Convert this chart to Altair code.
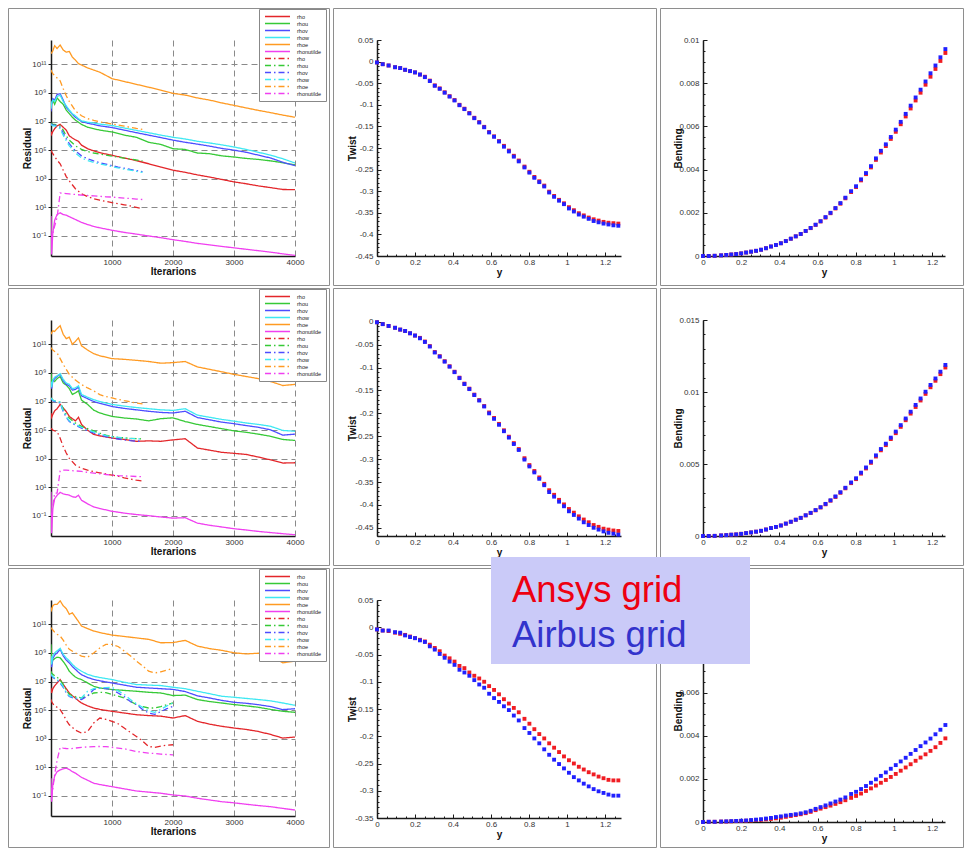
import altair as alt
import pandas as pd

# ---------------- residual histories (log10 of residual) ----------------
SERIES = ["rho", "rhou", "rhov", "rhow", "rhoe", "rhonutilde"]
SERIES_COLORS = ["#e3262a", "#36c936", "#4d4dff", "#3ee8f2", "#ff9a22", "#f03ff0"]

IT_SOLID = [0, 10, 30, 60, 100, 150, 200, 250, 300, 350, 400, 450, 500, 600, 700, 800,
            1000, 1200, 1400, 1600, 1800, 2000, 2200, 2400, 2600, 2800, 3000, 3200, 3400,
            3600, 3800, 4000]
IT_DASH_A = [0, 10, 30, 60, 100, 150, 200, 250, 300, 400, 500, 600, 700, 800, 900, 1000,
             1100, 1200, 1300, 1400, 1500]
IT_DASH_B = [0, 10, 30, 60, 100, 150, 200, 250, 300, 400, 500, 600, 700, 800, 900, 1000,
             1100, 1200, 1300, 1400, 1500, 1600, 1700, 1800, 1900, 2000]

R1_SOLID = {
    "rho": [6.3, 6.1, 6.3, 6.5, 6.7, 6.8, 6.6, 6.4, 6.0, 5.85, 5.72, 5.62, 5.35, 5.1, 4.95, 4.82,
            4.64, 4.45, 4.27, 4.05, 3.82, 3.6, 3.45, 3.27, 3.12, 2.95, 2.78, 2.65, 2.5, 2.38, 2.25, 2.24],
    "rhou": [8.0, 8.3, 8.5, 8.2, 8.65, 8.4, 8.2, 7.8, 7.55, 7.3, 7.1, 6.95, 6.8, 6.6, 6.5, 6.4,
             6.27, 6.05, 5.9, 5.55, 5.4, 5.1, 5.05, 4.8, 4.75, 4.6, 4.52, 4.42, 4.35, 4.25, 4.12, 3.97],
    "rhov": [7.7, 8.2, 8.6, 8.5, 8.9, 8.95, 8.5, 8.0, 7.75, 7.5, 7.3, 7.15, 7.0, 6.88, 6.8, 6.7,
             6.58, 6.4, 6.22, 6.05, 5.88, 5.7, 5.55, 5.42, 5.28, 5.12, 5.0, 4.85, 4.65, 4.45, 4.15, 3.92],
    "rhow": [7.9, 8.3, 8.5, 8.4, 8.75, 8.85, 8.4, 8.1, 7.8, 7.55, 7.4, 7.2, 7.05, 6.95, 6.9, 6.82,
             6.72, 6.55, 6.38, 6.22, 6.05, 5.9, 5.78, 5.62, 5.5, 5.37, 5.22, 5.05, 4.85, 4.65, 4.4, 4.1],
    "rhoe": [11.75, 11.8, 11.95, 12.3, 12.1, 12.35, 12.0, 11.85, 11.9, 11.5, 11.3, 11.05, 10.95, 10.75,
             10.6, 10.45, 10.0, 9.8, 9.6, 9.4, 9.2, 8.97, 8.85, 8.65, 8.5, 8.3, 8.13, 7.95, 7.78, 7.62, 7.45, 7.3],
    "rhonutilde": [0.4, -2.3, -0.8, 0.1, 0.5, 0.62, 0.5, 0.45, 0.35, 0.25, 0.15, 0.05, -0.05, -0.2, -0.33,
                   -0.43, -0.6, -0.75, -0.87, -1.0, -1.12, -1.26, -1.38, -1.52, -1.62, -1.73, -1.83, -1.93,
                   -2.03, -2.13, -2.25, -2.36],
}
R1_DASH = {
    "rho": [5.0, 4.9, 4.75, 4.55, 4.3, 4.05, 3.6, 3.15, 2.85, 2.3, 1.95, 1.75, 1.6, 1.5, 1.42, 1.33,
            1.26, 1.18, 1.1, 1.0, 0.9],
    "rhou": [6.9, 6.85, 6.8, 6.8, 6.75, 6.7, 6.4, 6.0, 5.7, 5.3, 5.05, 4.9, 4.8, 4.72, 4.65, 4.58,
             4.5, 4.44, 4.38, 4.31, 4.25],
    "rhov": [6.85, 6.8, 6.75, 6.75, 6.7, 6.6, 6.2, 5.8, 5.45, 4.95, 4.6, 4.4, 4.25, 4.12, 4.02, 3.92,
             3.82, 3.74, 3.65, 3.57, 3.5],
    "rhow": [6.8, 6.75, 6.7, 6.7, 6.65, 6.5, 6.05, 5.65, 5.3, 4.8, 4.45, 4.28, 4.15, 4.04, 3.95, 3.85,
             3.76, 3.68, 3.6, 3.52, 3.44],
    "rhoe": [10.6, 10.5, 10.35, 10.2, 10.05, 9.85, 9.3, 8.8, 8.4, 7.75, 7.4, 7.2, 7.08, 6.98, 6.9, 6.83,
             6.76, 6.68, 6.6, 6.52, 6.45],
    "rhonutilde": [-1.0, -1.2, -0.8, -0.3, 0.3, 2.0, 1.98, 1.96, 1.94, 1.9, 1.86, 1.83, 1.8, 1.77, 1.74,
                   1.72, 1.68, 1.65, 1.62, 1.58, 1.55],
}

R2_SOLID = {
    "rho": [6.2, 5.9, 6.1, 6.35, 6.5, 6.8, 6.55, 6.3, 5.96, 5.8, 5.65, 5.9, 5.4, 5.0, 4.7, 4.6,
            4.45, 4.35, 4.22, 4.25, 4.22, 4.32, 4.4, 3.75, 3.6, 3.45, 3.38, 3.3, 3.12, 2.92, 2.7, 2.72],
    "rhou": [9.0, 8.2, 8.5, 8.4, 8.6, 8.75, 8.3, 8.15, 7.9, 7.5, 7.6, 7.75, 7.1, 6.8, 6.4, 6.2,
             5.96, 5.85, 5.78, 5.65, 5.8, 5.86, 5.6, 5.4, 5.25, 5.1, 4.95, 4.85, 4.72, 4.57, 4.35, 4.28],
    "rhov": [8.3, 7.9, 8.4, 8.6, 8.75, 8.9, 8.45, 8.2, 8.1, 7.8, 7.85, 8.0, 7.4, 7.2, 7.0, 6.87,
             6.65, 6.52, 6.42, 6.32, 6.24, 6.2, 6.32, 5.88, 5.72, 5.56, 5.45, 5.32, 5.2, 5.02, 4.65, 4.72],
    "rhow": [8.4, 8.0, 8.5, 8.7, 8.8, 8.95, 8.55, 8.3, 8.2, 7.9, 7.95, 8.1, 7.5, 7.3, 7.13, 7.0,
             6.8, 6.68, 6.58, 6.5, 6.42, 6.38, 6.5, 6.05, 5.9, 5.75, 5.63, 5.5, 5.4, 5.27, 4.98, 4.92],
    "rhoe": [11.7, 11.8, 11.95, 11.9, 12.1, 12.3, 11.7, 11.4, 11.5, 11.0, 11.2, 11.45, 10.9, 10.6, 10.35,
             10.2, 10.0, 9.95, 9.88, 9.8, 9.68, 9.72, 9.8, 9.42, 9.25, 9.08, 8.9, 8.75, 8.6, 8.4, 8.12, 8.2],
    "rhonutilde": [0.7, -2.2, -0.5, 0.2, 0.45, 0.65, 0.55, 0.5, 0.45, 0.35, 0.3, 0.45, 0.1, -0.15, -0.37,
                   -0.48, -0.67, -0.8, -0.9, -0.98, -1.07, -1.15, -1.12, -1.5, -1.65, -1.77, -1.89, -1.98,
                   -2.08, -2.16, -2.24, -2.31],
}
R2_DASH = {
    "rho": [5.14, 5.1, 5.0, 4.95, 4.9, 4.44, 3.85, 3.4, 3.03, 2.56, 2.33, 2.2, 2.1, 2.02, 1.94, 1.86,
            1.78, 1.67, 1.58, 1.5, 1.44],
    "rhou": [7.25, 7.2, 7.1, 7.05, 7.0, 6.95, 6.5, 6.1, 5.84, 5.5, 5.26, 5.1, 4.95, 4.79, 4.65, 4.55,
             4.5, 4.46, 4.43, 4.41, 4.39],
    "rhov": [7.2, 7.15, 7.05, 7.0, 6.95, 6.9, 6.3, 5.9, 5.61, 5.35, 5.14, 4.95, 4.8, 4.67, 4.55, 4.44,
             4.38, 4.32, 4.27, 4.23, 4.2],
    "rhow": [7.25, 7.2, 7.1, 7.05, 7.0, 6.95, 6.35, 5.95, 5.65, 5.4, 5.2, 5.02, 4.88, 4.75, 4.62, 4.55,
             4.5, 4.45, 4.42, 4.4, 4.37],
    "rhoe": [10.77, 10.7, 10.6, 10.5, 10.4, 10.0, 9.6, 9.25, 8.9, 8.5, 8.19, 7.95, 7.75, 7.48, 7.35,
             7.25, 7.15, 7.06, 6.98, 6.9, 6.83],
    "rhonutilde": [-1.2, -1.0, -0.3, 0.6, 0.6, 2.15, 2.2, 2.2, 2.18, 2.15, 2.12, 2.05, 2.0, 1.95, 1.9,
                   1.86, 1.82, 1.8, 1.78, 1.76, 1.74],
}

R3_SOLID = {
    "rho": [6.56, 6.2, 6.5, 6.7, 6.9, 7.14, 6.8, 6.5, 6.2, 6.0, 5.85, 5.65, 5.5, 5.3, 5.15, 5.05,
            4.92, 4.8, 4.68, 4.62, 4.58, 4.45, 4.62, 4.22, 4.02, 3.87, 3.75, 3.65, 3.51, 3.3, 3.05, 3.12],
    "rhou": [9.6, 8.2, 8.5, 8.6, 8.7, 8.66, 8.4, 8.1, 7.72, 7.5, 7.32, 7.2, 7.14, 6.9, 6.67, 6.55,
             6.44, 6.38, 6.32, 6.25, 6.2, 6.02, 6.05, 5.74, 5.6, 5.5, 5.39, 5.3, 5.2, 5.05, 4.92, 4.85],
    "rhov": [8.55, 8.0, 8.6, 8.85, 9.0, 9.25, 8.8, 8.5, 8.3, 8.05, 7.85, 7.65, 7.48, 7.28, 7.15, 7.05,
             6.9, 6.75, 6.6, 6.55, 6.5, 6.45, 6.3, 6.0, 5.85, 5.68, 5.55, 5.48, 5.38, 5.25, 5.04, 5.1],
    "rhow": [8.78, 8.2, 8.8, 9.0, 9.15, 9.32, 8.9, 8.65, 8.45, 8.2, 8.0, 7.85, 7.72, 7.5, 7.37, 7.28,
             7.14, 6.95, 6.79, 6.75, 6.72, 6.6, 6.5, 6.32, 6.15, 5.97, 5.9, 5.82, 5.74, 5.65, 5.5, 5.34],
    "rhoe": [12.17, 12.0, 12.3, 12.4, 12.4, 12.64, 12.3, 12.1, 11.7, 11.8, 11.5, 11.2, 10.88, 10.7, 10.53,
             10.42, 10.25, 10.15, 10.05, 9.95, 9.71, 9.72, 9.88, 9.48, 9.3, 9.18, 9.01, 8.93, 8.98, 8.78,
             8.31, 8.43],
    "rhonutilde": [0.24, -1.4, -0.2, 0.4, 0.7, 0.82, 0.9, 0.94, 0.85, 0.7, 0.6, 0.45, 0.3, 0.1, -0.11,
                   -0.2, -0.35, -0.5, -0.65, -0.73, -0.81, -0.93, -1.0, -1.16, -1.28, -1.4, -1.48, -1.58,
                   -1.67, -1.75, -1.87, -1.98],
}
R3_DASH = {
    "rho": [5.74, 5.6, 5.45, 5.3, 5.2, 5.04, 4.7, 4.3, 3.98, 3.6, 3.4, 3.5, 4.1, 4.45, 4.35, 4.22,
            4.05, 3.75, 3.45, 3.16, 2.85, 2.46, 2.4, 2.48, 2.55, 2.58],
    "rhou": [7.72, 7.6, 7.5, 7.4, 7.3, 7.1, 6.8, 6.4, 6.09, 5.95, 5.85, 6.0, 6.2, 6.25, 6.22, 6.1,
             5.98, 5.85, 5.62, 5.39, 5.25, 5.15, 5.15, 5.25, 5.38, 5.5],
    "rhov": [7.5, 7.4, 7.3, 7.2, 7.1, 6.9, 6.6, 6.2, 5.95, 5.8, 5.74, 6.0, 6.44, 6.55, 6.5, 6.44,
             6.2, 5.95, 5.6, 5.39, 5.05, 4.8, 4.7, 4.9, 5.1, 5.27],
    "rhow": [7.55, 7.45, 7.35, 7.25, 7.15, 6.95, 6.65, 6.25, 6.0, 5.85, 5.85, 6.32, 6.5, 6.55, 6.58, 6.6,
             6.35, 6.1, 5.75, 5.45, 5.2, 4.95, 4.85, 5.05, 5.3, 5.5],
    "rhoe": [10.77, 10.7, 10.6, 10.45, 10.3, 10.18, 9.9, 9.55, 9.25, 9.0, 8.78, 8.7, 9.0, 9.35, 9.6, 9.6,
             9.45, 9.13, 8.8, 8.43, 8.1, 7.72, 7.6, 7.68, 7.8, 7.91],
    "rhonutilde": [-1.16, -1.0, -0.5, 0.5, 1.5, 2.39, 2.35, 2.32, 2.3, 2.35, 2.4, 2.43, 2.45, 2.46, 2.45,
                   2.4, 2.35, 2.3, 2.2, 2.11, 2.05, 2.0, 1.97, 1.92, 1.9, 1.88],
}

# ---------------- twist / bending along span ----------------
STATIONS = [0.000, 0.030, 0.061, 0.095, 0.122, 0.148, 0.174, 0.200, 0.226, 0.252, 0.278, 0.304,
            0.330, 0.356, 0.382, 0.408, 0.434, 0.460, 0.486, 0.512, 0.538, 0.564, 0.590, 0.616,
            0.642, 0.668, 0.694, 0.720, 0.746, 0.776, 0.802, 0.828, 0.854, 0.880, 0.906, 0.932,
            0.958, 0.984, 1.010, 1.036, 1.062, 1.088, 1.114, 1.140, 1.166, 1.192, 1.218, 1.244, 1.270]

TWIST1_ANSYS = [-0.002, -0.006, -0.009, -0.013, -0.015, -0.019, -0.022, -0.025, -0.030, -0.035, -0.044,
                -0.055, -0.062, -0.071, -0.080, -0.089, -0.100, -0.109, -0.119, -0.130, -0.140, -0.151,
                -0.163, -0.173, -0.184, -0.195, -0.206, -0.218, -0.229, -0.243, -0.255, -0.267, -0.277,
                -0.287, -0.301, -0.311, -0.320, -0.328, -0.337, -0.344, -0.351, -0.356, -0.361, -0.365,
                -0.368, -0.371, -0.373, -0.374, -0.375]
TWIST1_AIRBUS = [-0.002, -0.006, -0.009, -0.013, -0.015, -0.019, -0.022, -0.025, -0.030, -0.036, -0.045,
                 -0.056, -0.063, -0.072, -0.081, -0.090, -0.101, -0.110, -0.120, -0.131, -0.141, -0.152,
                 -0.164, -0.174, -0.185, -0.197, -0.208, -0.220, -0.231, -0.245, -0.257, -0.269, -0.279,
                 -0.289, -0.303, -0.313, -0.322, -0.330, -0.340, -0.347, -0.354, -0.359, -0.364, -0.369,
                 -0.372, -0.375, -0.377, -0.379, -0.380]
TWIST2_ANSYS = [-0.001, -0.005, -0.009, -0.013, -0.017, -0.020, -0.025, -0.030, -0.035, -0.043, -0.053,
                -0.066, -0.075, -0.086, -0.097, -0.109, -0.122, -0.135, -0.146, -0.159, -0.171, -0.184,
                -0.198, -0.210, -0.223, -0.237, -0.251, -0.265, -0.278, -0.298, -0.313, -0.326, -0.340,
                -0.354, -0.368, -0.378, -0.389, -0.399, -0.409, -0.417, -0.425, -0.432, -0.438, -0.444,
                -0.448, -0.452, -0.454, -0.456, -0.457]
TWIST2_AIRBUS = [-0.001, -0.005, -0.009, -0.013, -0.017, -0.020, -0.025, -0.030, -0.036, -0.044, -0.054,
                 -0.067, -0.076, -0.087, -0.098, -0.110, -0.123, -0.136, -0.147, -0.160, -0.172, -0.185,
                 -0.200, -0.212, -0.225, -0.239, -0.253, -0.267, -0.280, -0.301, -0.316, -0.329, -0.343,
                 -0.357, -0.372, -0.382, -0.393, -0.403, -0.414, -0.422, -0.430, -0.438, -0.444, -0.450,
                 -0.454, -0.458, -0.461, -0.463, -0.465]
TWIST3_ANSYS = [-0.004, -0.006, -0.007, -0.010, -0.012, -0.014, -0.017, -0.020, -0.023, -0.026, -0.032,
                -0.038, -0.044, -0.052, -0.057, -0.063, -0.071, -0.075, -0.083, -0.089, -0.094, -0.100,
                -0.108, -0.115, -0.123, -0.132, -0.140, -0.148, -0.156, -0.168, -0.177, -0.187, -0.196,
                -0.204, -0.213, -0.221, -0.229, -0.237, -0.244, -0.250, -0.256, -0.261, -0.266, -0.270,
                -0.274, -0.277, -0.280, -0.281, -0.281]
TWIST3_AIRBUS = [-0.004, -0.006, -0.006, -0.009, -0.010, -0.015, -0.018, -0.020, -0.024, -0.027, -0.035,
                 -0.041, -0.049, -0.056, -0.063, -0.069, -0.078, -0.083, -0.089, -0.097, -0.105, -0.111,
                 -0.122, -0.130, -0.137, -0.145, -0.152, -0.162, -0.171, -0.185, -0.194, -0.204, -0.213,
                 -0.224, -0.234, -0.243, -0.251, -0.259, -0.267, -0.275, -0.281, -0.287, -0.292, -0.297,
                 -0.301, -0.304, -0.307, -0.309, -0.309]

BEND1_ANSYS = [0.0, 0.0, 0.00001, 0.00003, 0.00005, 0.00007, 0.00009, 0.00012, 0.00016, 0.00020, 0.00024,
               0.00029, 0.00036, 0.00044, 0.00051, 0.00059, 0.00069, 0.00080, 0.00091, 0.00102, 0.00116,
               0.00129, 0.00144, 0.00160, 0.00178, 0.00198, 0.00220, 0.00242, 0.00267, 0.00296, 0.00319,
               0.00350, 0.00379, 0.00410, 0.00445, 0.00479, 0.00509, 0.00542, 0.00575, 0.00610, 0.00646,
               0.00683, 0.00720, 0.00756, 0.00793, 0.00830, 0.00866, 0.00903, 0.00940]
BEND1_AIRBUS = [0.0, 0.0, 0.00001, 0.00003, 0.00005, 0.00007, 0.00009, 0.00012, 0.00016, 0.00020, 0.00024,
                0.00029, 0.00036, 0.00044, 0.00051, 0.00059, 0.00069, 0.00080, 0.00091, 0.00102, 0.00116,
                0.00130, 0.00145, 0.00161, 0.00180, 0.00200, 0.00222, 0.00245, 0.00270, 0.00300, 0.00323,
                0.00355, 0.00384, 0.00416, 0.00452, 0.00487, 0.00517, 0.00551, 0.00585, 0.00621, 0.00658,
                0.00696, 0.00734, 0.00770, 0.00808, 0.00846, 0.00882, 0.00920, 0.00958]
BEND2_ANSYS = [0.0, 0.0, 0.00001, 0.00004, 0.00006, 0.00009, 0.00011, 0.00015, 0.00020, 0.00025, 0.00030,
               0.00036, 0.00045, 0.00055, 0.00063, 0.00073, 0.00086, 0.00099, 0.00113, 0.00126, 0.00143,
               0.00160, 0.00178, 0.00198, 0.00220, 0.00245, 0.00271, 0.00300, 0.00331, 0.00367, 0.00395,
               0.00433, 0.00469, 0.00508, 0.00552, 0.00595, 0.00631, 0.00673, 0.00714, 0.00758, 0.00804,
               0.00850, 0.00896, 0.00941, 0.00987, 0.01033, 0.01078, 0.01124, 0.01170]
BEND2_AIRBUS = [0.0, 0.0, 0.00001, 0.00004, 0.00006, 0.00009, 0.00011, 0.00015, 0.00020, 0.00025, 0.00030,
                0.00036, 0.00045, 0.00055, 0.00063, 0.00073, 0.00086, 0.00099, 0.00113, 0.00126, 0.00144,
                0.00161, 0.00180, 0.00200, 0.00223, 0.00248, 0.00275, 0.00304, 0.00335, 0.00372, 0.00401,
                0.00440, 0.00476, 0.00516, 0.00560, 0.00604, 0.00641, 0.00683, 0.00725, 0.00770, 0.00816,
                0.00863, 0.00910, 0.00955, 0.01002, 0.01049, 0.01094, 0.01141, 0.01188]
BEND3_ANSYS = [0.0, 0.00001, 0.00001, 0.00002, 0.00002, 0.00003, 0.00004, 0.00005, 0.00006, 0.00007, 0.00009,
               0.00010, 0.00012, 0.00014, 0.00017, 0.00020, 0.00024, 0.00028, 0.00032, 0.00036, 0.00041,
               0.00047, 0.00055, 0.00062, 0.00069, 0.00076, 0.00084, 0.00092, 0.00101, 0.00112, 0.00121,
               0.00132, 0.00144, 0.00156, 0.00169, 0.00182, 0.00195, 0.00209, 0.00223, 0.00238, 0.00253,
               0.00268, 0.00284, 0.00299, 0.00314, 0.00330, 0.00347, 0.00367, 0.00388]
BEND3_AIRBUS = [0.0, 0.00001, 0.00001, 0.00002, 0.00003, 0.00004, 0.00005, 0.00006, 0.00007, 0.00009, 0.00011,
                0.00013, 0.00016, 0.00019, 0.00023, 0.00026, 0.00030, 0.00033, 0.00036, 0.00040, 0.00045,
                0.00052, 0.00061, 0.00069, 0.00077, 0.00086, 0.00095, 0.00104, 0.00114, 0.00130, 0.00140,
                0.00153, 0.00167, 0.00182, 0.00198, 0.00214, 0.00230, 0.00247, 0.00264, 0.00281, 0.00298,
                0.00316, 0.00334, 0.00352, 0.00369, 0.00387, 0.00407, 0.00428, 0.00450]

LEGEND_LABELS = ["Ansys grid", "Airbus grid"]
RED = "#f01c22"
BLUE = "#2020ff"
FONT = "Liberation Sans"

KEYS = [s + "|s" for s in SERIES] + [s + "|d" for s in SERIES]
KEY_COLORS = SERIES_COLORS * 2
KEY_DASH = [[1, 0]] * 6 + [[6, 3, 1.5, 3]] * 6

SUP = {-1: "\u207b\u00b9", 1: "\u00b9", 3: "\u00b3", 5: "\u2075", 7: "\u2077", 9: "\u2079", 11: "\u00b9\u00b9"}
POW_EXPR = " : ".join(f"datum.value == {k} ? '10{v}'" for k, v in SUP.items()) + " : ''"
NUM_EXPR = "'' + datum.value"

ONE = pd.DataFrame({"k": [0]})


def frame(W, H, L, R, T, B):
    return alt.Chart(ONE).mark_rect(filled=False, stroke="#8e8e8e", strokeWidth=1).encode(
        x=alt.value(-L + 0.5), x2=alt.value(W + R - 0.5),
        y=alt.value(-T + 0.5), y2=alt.value(H + B - 0.5))


def residual_df(it_s, solid, it_d, dash):
    rows = []
    for s in SERIES:
        assert len(solid[s]) == len(it_s), (s, len(solid[s]))
        for it, e in zip(it_s, solid[s]):
            rows.append({"it": it, "e": e, "key": s + "|s"})
    for s in SERIES:
        assert len(dash[s]) == len(it_d), (s, len(dash[s]))
        for it, e in zip(it_d, dash[s]):
            rows.append({"it": it, "e": e, "key": s + "|d"})
    return pd.DataFrame(rows)


def residual_panel(df, W, H, fr):
    leg = alt.Legend(title=None, orient="none", legendX=208, legendY=-31,
                     symbolType="M-5,0H5", symbolSize=25, symbolStrokeWidth=1.5,
                     labelFontSize=5.5, labelFont=FONT, labelColor="#222",
                     rowPadding=0, padding=4, symbolOffset=11, labelOffset=16,
                     fillColor="white", strokeColor="#888",
                     labelExpr="split(datum.label, '|')[0]")
    lines = alt.Chart(df).mark_line(strokeWidth=1.3, clip=True).encode(
        x=alt.X("it:Q", scale=alt.Scale(domain=[0, 4000], nice=False, zero=False),
                axis=alt.Axis(values=[1000, 2000, 3000, 4000], format="d", grid=True,
                              gridDash=[6, 4], gridColor="#8a8a8a", ticks=False, tickSize=0,
                              labelPadding=2, title="Iterarions", titleY=15, titleBaseline="middle")),
        y=alt.Y("e:Q", scale=alt.Scale(domain=[-2.4, 12.7], nice=False, zero=False),
                axis=alt.Axis(values=[-1, 1, 3, 5, 7, 9, 11], labelExpr=POW_EXPR, grid=True,
                              gridDash=[6, 4], gridColor="#8a8a8a", tickSize=3, labelPadding=2,
                              title="Residual", titleX=-24, titleY=H / 2, titleAngle=-90,
                              titleAlign="center", titleBaseline="middle")),
        color=alt.Color("key:N", scale=alt.Scale(domain=KEYS, range=KEY_COLORS), legend=leg),
        strokeDash=alt.StrokeDash("key:N", scale=alt.Scale(domain=KEYS, range=KEY_DASH), legend=leg),
    )
    return alt.layer(frame(W, H, *fr), lines).properties(width=W, height=H)


X_MAJOR = [0, 0.2, 0.4, 0.6, 0.8, 1, 1.2]
X_MINOR = [round(0.05 * i, 3) for i in range(26)]


def scatter_panel(red, blue, ytitle, ydom, ymaj, ymin, xdom, W, H, fr, extra=()):
    dred = pd.DataFrame({"s": STATIONS, "v": red, "grid": LEGEND_LABELS[0]})
    dblue = pd.DataFrame({"s": STATIONS, "v": blue, "grid": LEGEND_LABELS[1]})
    xs = alt.Scale(domain=xdom, nice=False, zero=False)
    ys = alt.Scale(domain=ydom, nice=False, zero=False)
    red_l = alt.Chart(dred).mark_square(size=15, color=RED, opacity=1).encode(
        x=alt.X("s:Q", scale=xs, axis=alt.Axis(values=X_MAJOR, labelExpr=NUM_EXPR, ticks=False,
                                                tickSize=0, labelPadding=2, title="y", titleY=16,
                                                titleBaseline="middle", orient="bottom")),
        y=alt.Y("v:Q", scale=ys, axis=alt.Axis(values=ymaj, labelExpr=NUM_EXPR, ticks=False,
                                                tickSize=0, labelPadding=4, title=ytitle, titleX=-25,
                                                titleY=H / 2, titleAngle=-90, titleAlign="center",
                                                titleBaseline="middle", orient="left")))
    blue_l = alt.Chart(dblue).mark_square(size=15, color=BLUE, opacity=1).encode(
        x=alt.X("s:Q", scale=xs, axis=alt.Axis(orient="top", offset=-H, values=X_MAJOR, labels=False,
                                                domain=False, tickSize=4, title=None)),
        y=alt.Y("v:Q", scale=ys, axis=alt.Axis(orient="right", offset=-W, values=ymaj, labels=False,
                                                domain=False, tickSize=4, title=None)))
    minor_l = alt.Chart(dblue).mark_point(opacity=0).encode(
        x=alt.X("s:Q", scale=xs, axis=alt.Axis(orient="top", offset=-H, values=X_MINOR, labels=False,
                                                domain=False, tickSize=2, title=None)),
        y=alt.Y("v:Q", scale=ys, axis=alt.Axis(orient="right", offset=-W, values=ymin, labels=False,
                                                domain=False, tickSize=2, title=None)))
    layers = [frame(W, H, *fr), red_l, blue_l, minor_l, *extra]
    return alt.layer(*layers).resolve_axis(x="independent", y="independent").properties(width=W, height=H)


# overlay legend box (drawn in the last panel, on top of everything)
box = alt.Chart(ONE).mark_rect(fill="#cacaf8").encode(
    x=alt.value(-212), x2=alt.value(47), y=alt.value(-43), y2=alt.value(64))
txt_a = alt.Chart(ONE).mark_text(text=LEGEND_LABELS[0], font=FONT, fontSize=36.5, color="#ee0011",
                                 align="left", baseline="alphabetic").encode(
    x=alt.value(-191), y=alt.value(2))
txt_b = alt.Chart(ONE).mark_text(text=LEGEND_LABELS[1], font=FONT, fontSize=36.5, color="#3333cc",
                                 align="left", baseline="alphabetic").encode(
    x=alt.value(-191), y=alt.value(47))

TW_MINOR1 = [round(0.05 - 0.01 * i, 3) for i in range(51)]
TW_MINOR2 = [round(0.0 - 0.01 * i, 3) for i in range(47)]
TW_MINOR3 = [round(0.05 - 0.01 * i, 3) for i in range(41)]
BD_MINOR1 = [round(0.0005 * i, 5) for i in range(21)]
BD_MINOR2 = [round(0.001 * i, 4) for i in range(16)]

p11 = residual_panel(residual_df(IT_SOLID, R1_SOLID, IT_DASH_A, R1_DASH), 244, 216, (43, 35, 32, 30))
p21 = residual_panel(residual_df(IT_SOLID, R2_SOLID, IT_DASH_A, R2_DASH), 244, 216, (43, 35, 32, 30))
p31 = residual_panel(residual_df(IT_SOLID, R3_SOLID, IT_DASH_B, R3_DASH), 244, 216, (43, 35, 32, 32))

p12 = scatter_panel(TWIST1_ANSYS, TWIST1_AIRBUS, "Twist", [-0.45, 0.05],
                    [0.05, 0, -0.05, -0.1, -0.15, -0.2, -0.25, -0.3, -0.35, -0.4, -0.45], TW_MINOR1,
                    [0, 1.284], 244, 216, (44, 36, 32, 30))
p22 = scatter_panel(TWIST2_ANSYS, TWIST2_AIRBUS, "Twist", [-0.468, 0.004],
                    [0, -0.05, -0.1, -0.15, -0.2, -0.25, -0.3, -0.35, -0.4, -0.45], TW_MINOR2,
                    [0, 1.284], 244, 216, (44, 36, 32, 30))
p32 = scatter_panel(TWIST3_ANSYS, TWIST3_AIRBUS, "Twist", [-0.35, 0.05],
                    [0.05, 0, -0.05, -0.1, -0.15, -0.2, -0.25, -0.3, -0.35], TW_MINOR3,
                    [0, 1.284], 244, 218, (44, 36, 32, 30))

p13 = scatter_panel(BEND1_ANSYS, BEND1_AIRBUS, "Bending", [0, 0.01],
                    [0, 0.002, 0.004, 0.006, 0.008, 0.01], BD_MINOR1,
                    [0, 1.268], 242, 216, (43, 19, 32, 30))
p23 = scatter_panel(BEND2_ANSYS, BEND2_AIRBUS, "Bending", [0, 0.015],
                    [0, 0.005, 0.01, 0.015], BD_MINOR2,
                    [0, 1.268], 242, 216, (43, 19, 32, 30))
p33 = scatter_panel(BEND3_ANSYS, BEND3_AIRBUS, "Bending", [0, 0.0103],
                    [0, 0.002, 0.004, 0.006, 0.008, 0.01], BD_MINOR1,
                    [0, 1.268], 242, 222, (43, 19, 32, 26), extra=(box, txt_a, txt_b))

chart = alt.concat(p11, p12, p13, p21, p22, p23, p31, p32, p33, columns=3,
                   spacing={"row": 64, "column": 82}, bounds="flush", align="each").resolve_scale(
    color="independent", strokeDash="independent"
).properties(padding=0, background="white").configure_view(stroke=None).configure_axis(
    labelFont=FONT, labelFontSize=8, labelColor="#333", titleFont=FONT, titleFontSize=10,
    titleFontWeight="bold", titleColor="#111", domainColor="#1a1a1a", domainWidth=1.5,
    tickColor="#1a1a1a", tickWidth=1, grid=False, labelFlush=False, labelOverlap=False
)

chart.save("out.html", embed_options={"renderer": "svg", "actions": False})
